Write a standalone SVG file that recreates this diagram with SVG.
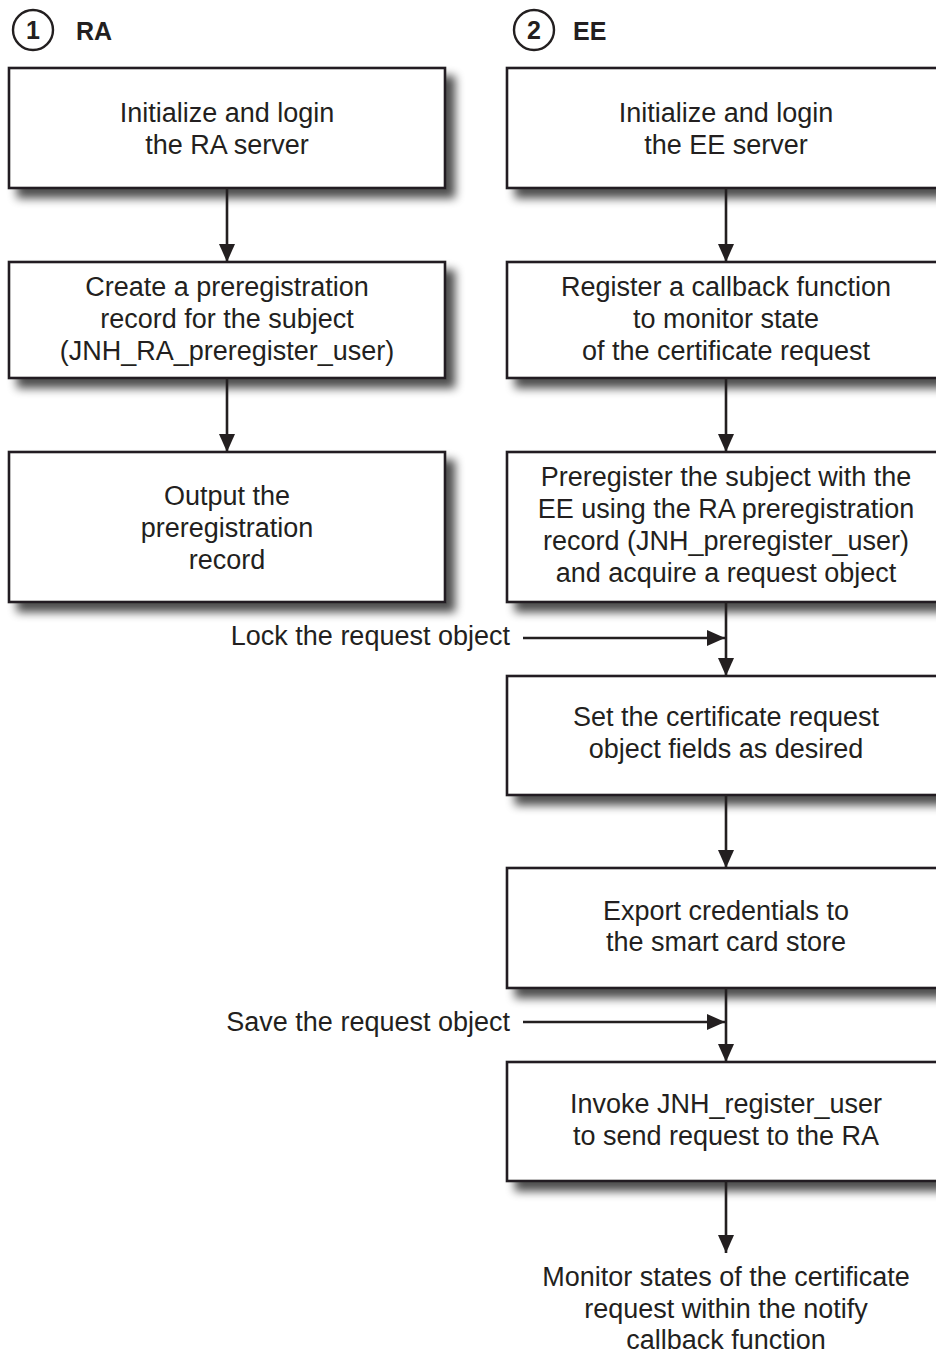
<svg xmlns="http://www.w3.org/2000/svg" width="936" height="1354" viewBox="0 0 936 1354">
<defs>
<filter id="sh" x="-10%" y="-20%" width="130%" height="150%">
<feGaussianBlur in="SourceAlpha" stdDeviation="5"/>
<feOffset dx="9" dy="9" result="b"/>
<feComponentTransfer><feFuncA type="linear" slope="0.7"/></feComponentTransfer>
<feMerge><feMergeNode/><feMergeNode in="SourceGraphic"/></feMerge>
</filter>
<marker id="ah" viewBox="0 0 18 16" refX="18" refY="8" markerWidth="18" markerHeight="16" markerUnits="userSpaceOnUse" orient="auto">
<path d="M0,0 L18,8 L0,16 Z" fill="#231f20"/>
</marker>
</defs>
<style>
.box{fill:#fff;stroke:#231f20;stroke-width:2.6;filter:url(#sh)}
.t{font-family:"Liberation Sans",Arial,sans-serif;font-size:27px;fill:#231f20;text-anchor:middle}
.l{font-family:"Liberation Sans",Arial,sans-serif;font-size:27px;fill:#231f20;text-anchor:end}
.h{font-family:"Liberation Sans",Arial,sans-serif;font-size:25px;font-weight:bold;fill:#231f20}
.c{fill:none;stroke:#231f20;stroke-width:2.4}
.e{fill:none;stroke:#231f20;stroke-width:2.6;marker-end:url(#ah)}
</style>
<rect width="936" height="1354" fill="#fff"/>
<g id="head1">
<circle class="c" cx="33" cy="30" r="20"/>
<text class="h" x="33" y="39" text-anchor="middle">1</text>
<text class="h" x="76" y="40">RA</text>
</g>
<g id="head2">
<circle class="c" cx="534" cy="30" r="20"/>
<text class="h" x="534" y="39" text-anchor="middle">2</text>
<text class="h" x="573" y="40">EE</text>
</g>
<g id="ra1"><rect class="box" x="9" y="68" width="436" height="120"/>
<text class="t" x="227" y="122">Initialize and login</text><text class="t" x="227" y="154">the RA server</text></g>
<g id="ra2"><rect class="box" x="9" y="262" width="436" height="116"/>
<text class="t" x="227" y="296">Create a preregistration</text><text class="t" x="227" y="328">record for the subject</text><text class="t" x="227" y="360">(JNH_RA_preregister_user)</text></g>
<g id="ra3"><rect class="box" x="9" y="452" width="436" height="150"/>
<text class="t" x="227" y="505">Output the</text><text class="t" x="227" y="537">preregistration</text><text class="t" x="227" y="569">record</text></g>
<g id="ee1"><rect class="box" x="507" y="68" width="438" height="120"/>
<text class="t" x="726" y="122">Initialize and login</text><text class="t" x="726" y="154">the EE server</text></g>
<g id="ee2"><rect class="box" x="507" y="262" width="438" height="116"/>
<text class="t" x="726" y="296">Register a callback function</text><text class="t" x="726" y="328">to monitor state</text><text class="t" x="726" y="360">of the certificate request</text></g>
<g id="ee3"><rect class="box" x="507" y="452" width="438" height="150"/>
<text class="t" x="726" y="486">Preregister the subject with the</text><text class="t" x="726" y="518">EE using the RA preregistration</text><text class="t" x="726" y="550">record (JNH_preregister_user)</text><text class="t" x="726" y="582">and acquire a request object</text></g>
<g id="ee4"><rect class="box" x="507" y="676" width="438" height="119"/>
<text class="t" x="726" y="726">Set the certificate request</text><text class="t" x="726" y="758">object fields as desired</text></g>
<g id="ee5"><rect class="box" x="507" y="868" width="438" height="120"/>
<text class="t" x="726" y="920">Export credentials to</text><text class="t" x="726" y="951">the smart card store</text></g>
<g id="ee6"><rect class="box" x="507" y="1062" width="438" height="119"/>
<text class="t" x="726" y="1113">Invoke JNH_register_user</text><text class="t" x="726" y="1145">to send request to the RA</text></g>
<g id="final">
<text class="t" x="726" y="1286">Monitor states of the certificate</text><text class="t" x="726" y="1318">request within the notify</text><text class="t" x="726" y="1349">callback function</text></g>
<g id="side-labels">
<text class="l" x="510" y="645">Lock the request object</text>
<text class="l" x="510" y="1031">Save the request object</text>
</g>
<g id="connectors">
<line class="e" x1="227" y1="188" x2="227" y2="262"/>
<line class="e" x1="227" y1="378" x2="227" y2="452"/>
<line class="e" x1="726" y1="188" x2="726" y2="262"/>
<line class="e" x1="726" y1="378" x2="726" y2="452"/>
<line class="e" x1="726" y1="602" x2="726" y2="676"/>
<line class="e" x1="726" y1="795" x2="726" y2="868"/>
<line class="e" x1="726" y1="988" x2="726" y2="1062"/>
<line class="e" x1="726" y1="1181" x2="726" y2="1253"/>
<line class="e" x1="523" y1="638" x2="725" y2="638"/>
<line class="e" x1="523" y1="1022" x2="725" y2="1022"/>
</g>
</svg>
